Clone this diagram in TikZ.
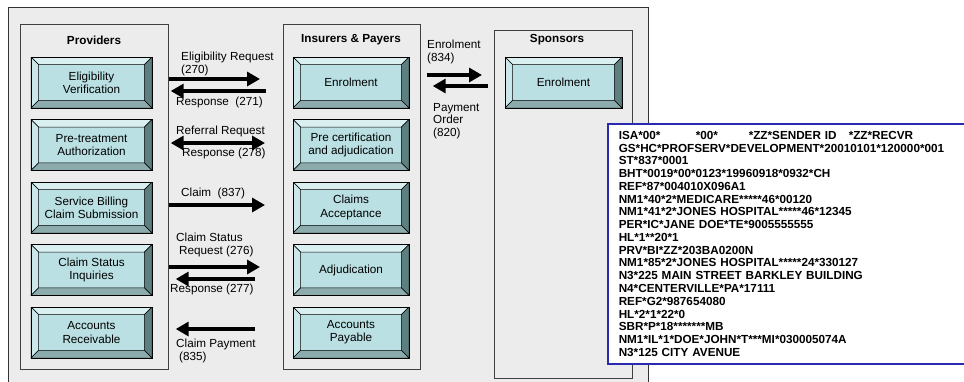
\documentclass[tikz,border=0pt]{standalone}
\usepackage{fontspec}
\setmainfont{Liberation Sans}
\usetikzlibrary{arrows.meta}

\definecolor{panelgray}{HTML}{ECECEC}
\definecolor{facecyan}{HTML}{BAE0E3}
\definecolor{bevellight}{HTML}{DAEFF0}
\definecolor{bevelleft}{HTML}{CBE7E9}
\definecolor{beveldark}{HTML}{5E7F80}
\definecolor{bevelmid}{HTML}{8CABAD}
\definecolor{listblue}{HTML}{2A2AAE}
\newcommand\bevw{0.23cm}

\tikzset{
  panel/.style={draw=black!75,fill=panelgray,line width=0.6pt,anchor=north west,inner sep=0pt},
  title/.style={font=\fontsize{10}{11}\selectfont\bfseries},
  bevelbox/.style={draw=black,fill=facecyan,line width=0.6pt,minimum height=1.53cm,
    inner sep=0pt,align=center,font=\fontsize{10}{11.2}\selectfont,
    path picture={
      \coordinate (bnw) at (path picture bounding box.north west);
      \coordinate (bne) at (path picture bounding box.north east);
      \coordinate (bsw) at (path picture bounding box.south west);
      \coordinate (bse) at (path picture bounding box.south east);
      \filldraw[fill=bevellight,line width=0.4pt] (bnw) -- (bne) -- ([shift={(-\bevw,-\bevw)}]bne) -- ([shift={(\bevw,-\bevw)}]bnw) -- cycle;
      \filldraw[fill=bevelleft,line width=0.4pt] (bnw) -- (bsw) -- ([shift={(\bevw,\bevw)}]bsw) -- ([shift={(\bevw,-\bevw)}]bnw) -- cycle;
      \filldraw[fill=beveldark,line width=0.4pt] (bne) -- (bse) -- ([shift={(-\bevw,\bevw)}]bse) -- ([shift={(-\bevw,-\bevw)}]bne) -- cycle;
      \filldraw[fill=bevelmid,line width=0.4pt] (bsw) -- (bse) -- ([shift={(-\bevw,\bevw)}]bse) -- ([shift={(\bevw,\bevw)}]bsw) -- cycle;
    }},
  flow/.style={line width=0.13cm,-{Triangle[length=0.39cm,width=0.42cm]}},
  flowboth/.style={line width=0.13cm,{Triangle[length=0.39cm,width=0.42cm]}-{Triangle[length=0.39cm,width=0.42cm]}},
  lbl/.style={anchor=west,align=left,inner sep=0pt,font=\fontsize{10}{10.6}\selectfont}
}

\begin{document}
\begin{tikzpicture}[x=0.03cm,y=-0.03cm,node distance=1.875cm]
  \clip (0,0) rectangle (964,381);
  \fill[white] (0,0) rectangle (964,381);
  \draw[draw=black!80,fill=panelgray,line width=0.6pt] (8,7) rectangle (648,395);

  \node[panel,minimum width=4.44cm,minimum height=10.35cm] (prov) at (20,24) {};
  \node[panel,minimum width=4.11cm,minimum height=10.35cm] (ins) at (283,24) {};
  \node[panel,minimum width=4.14cm,minimum height=10.44cm] (spon) at (494,30) {};

  \node[title] (provtitle) at (94,40) {Providers};
  \node[title] (institle) at (351,40) {Insurers \& Payers};
  \node[title] (spontitle) at (557,40) {Sponsors};

  \node[bevelbox,minimum width=3.63cm] (elig) at (91.5,82.5) {Eligibility\\Verification};
  \node[bevelbox,minimum width=3.63cm] (pretreat) [below of=elig] {Pre-treatment\\Authorization};
  \node[bevelbox,minimum width=3.63cm] (billing) [below of=pretreat] {Service Billing\\Claim Submission};
  \node[bevelbox,minimum width=3.63cm] (status) [below of=billing] {Claim Status\\Inquiries};
  \node[bevelbox,minimum width=3.63cm] (receiv) [below of=status] {Accounts\\Receivable};

  \node[bevelbox,minimum width=3.48cm] (insenrol) at (351,82.5) {Enrolment};
  \node[bevelbox,minimum width=3.48cm] (precert) [below of=insenrol] {Pre certification\\and adjudication};
  \node[bevelbox,minimum width=3.48cm] (accept) [below of=precert] {Claims\\Acceptance};
  \node[bevelbox,minimum width=3.48cm] (adjud) [below of=accept] {Adjudication};
  \node[bevelbox,minimum width=3.48cm] (payable) [below of=adjud] {Accounts\\Payable};

  \node[bevelbox,minimum width=3.51cm] (sponenrol) at (563.5,82.5) {Enrolment};

  \coordinate (eligreq) at (260,79);
  \coordinate (eligresp) at (266,91);
  \coordinate (referral) at (265,143);
  \coordinate (claim) at (265,205);
  \coordinate (statreq) at (260,267);
  \coordinate (statresp) at (255,279);
  \coordinate (payment) at (255,329);
  \coordinate (enrol) at (482,75);
  \coordinate (payorder) at (488,86);

  \draw[flow] (prov.east |- eligreq) -- (eligreq);
  \draw[flow,shorten >=0.06cm] (eligresp) -- (prov.east |- eligresp);
  \draw[flowboth,shorten >=0.06cm] (referral) -- (prov.east |- referral);
  \draw[flow] (prov.east |- claim) -- (claim);
  \draw[flow] (prov.east |- statreq) -- (statreq);
  \draw[flow,shorten >=0.21cm] (statresp) -- (prov.east |- statresp);
  \draw[flow,shorten >=0.21cm] (payment) -- (prov.east |- payment);
  \draw[flow,shorten <=0.18cm] (ins.east |- enrol) -- (enrol);
  \draw[flow,shorten >=0.36cm] (payorder) -- (ins.east |- payorder);

  \node[lbl] (l270) at (181,64) {Eligibility Request\\(270)};
  \node[lbl] (l271) at (176,102) {Response\ \ (271)};
  \node[lbl] (l278a) at (176,131) {Referral Request};
  \node[lbl] (l278b) at (182,153) {Response (278)};
  \node[lbl] (l837) at (181,193) {Claim\ \ (837)};
  \node[lbl] (l276) at (176,245) {Claim Status\\\hspace{0.09cm}Request (276)};
  \node[lbl] (l277) at (170,289) {Response (277)};
  \node[lbl] (l835) at (176,351) {Claim Payment\\\hspace{0.09cm}(835)};
  \node[lbl] (l834) at (427,52) {Enrolment\\(834)};
  \node[lbl] (l820) at (433,121) {Payment\\Order\\(820)};

  % sample 837 claim transaction
  \node[draw=listblue,fill=white,line width=1.3pt,anchor=north west,minimum height=7.2cm,
    inner xsep=0.33cm,inner ysep=0pt,text width=11cm,align=left,
    font=\fontsize{10}{10.9}\selectfont\bfseries] (edi) at (607,123) {%
    \makebox[2.31cm][l]{ISA*00*}\makebox[1.59cm][l]{*00*}\makebox[3cm][l]{*ZZ*SENDER ID}*ZZ*RECVR\\
    GS*HC*PROFSERV*DEVELOPMENT*20010101*120000*001\\
    ST*837*0001\\
    BHT*0019*00*0123*19960918*0932*CH\\
    REF*87*004010X096A1\\
    NM1*40*2*MEDICARE*****46*00120\\
    NM1*41*2*JONES HOSPITAL*****46*12345\\
    PER*IC*JANE DOE*TE*9005555555\\
    HL*1**20*1\\
    PRV*BI*ZZ*203BA0200N\\
    NM1*85*2*JONES HOSPITAL*****24*330127\\
    N3*225 MAIN STREET BARKLEY BUILDING\\
    N4*CENTERVILLE*PA*17111\\
    REF*G2*987654080\\
    HL*2*1*22*0\\
    SBR*P*18*******MB\\
    NM1*IL*1*DOE*JOHN*T***MI*030005074A\\
    N3*125 CITY AVENUE};
\end{tikzpicture}
\end{document}
